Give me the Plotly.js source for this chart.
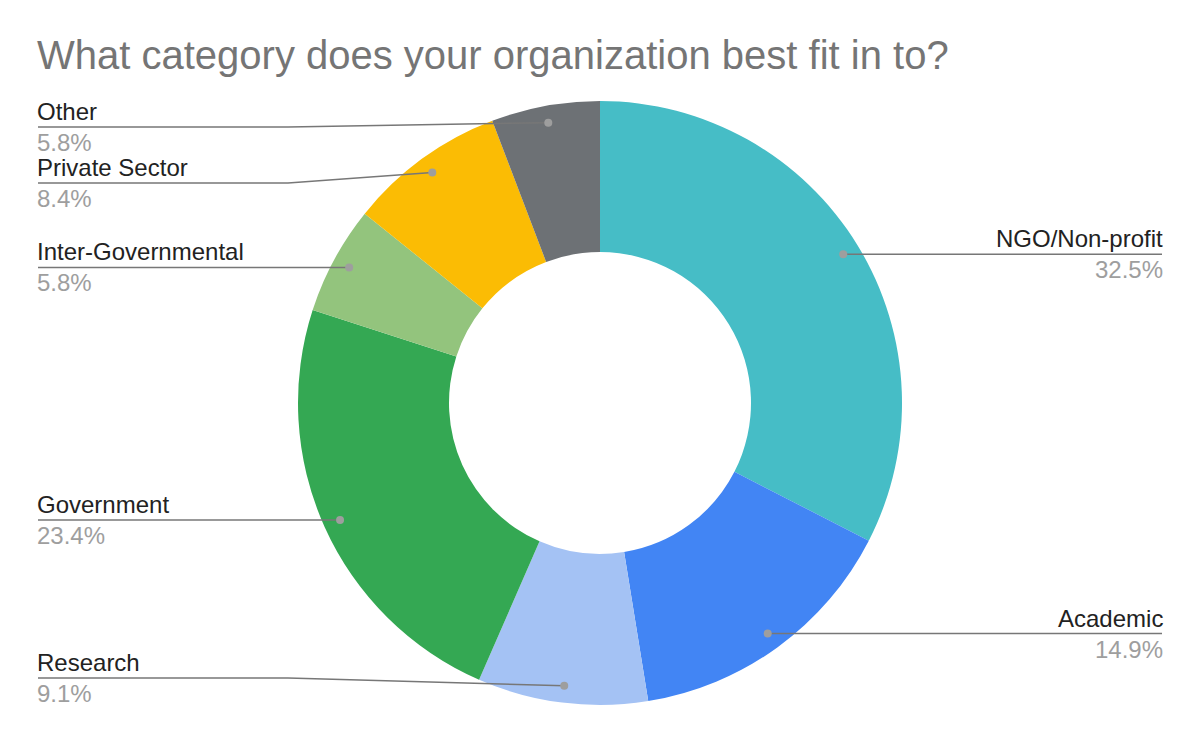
<!DOCTYPE html>
<html>
<head>
<meta charset="utf-8">
<script src="https://cdn.plot.ly/plotly-3.0.1.min.js"></script>
<style>html,body{margin:0;padding:0;background:#fff;}#chart{width:1200px;height:742px;}</style>
</head>
<body>
<div id="chart"></div>
<script>
// ---- data ----
const categories = ['NGO/Non-profit', 'Academic', 'Research', 'Government', 'Inter-Governmental', 'Private Sector', 'Other'];
const shares = [32.5, 14.9, 9.1, 23.4, 5.8, 8.4, 5.8];
const sliceColors = ['#46bdc6', '#4285f4', '#a4c2f4', '#34a853', '#93c47d', '#fbbc04', '#6d7175'];
const chartTitle = 'What category does your organization best fit in to?';

// ---- layout geometry (pixels) ----
const W = 1200, H = 742;
const CX = 600, CY = 403, R = 302;
const HOLE = 0.5;
const DOT_R = 0.944 * R;
const LEFT_X = 38, RIGHT_X = 1162;
const TEXT_SHIFT = 2;
const KINK_LEFT = 288, KINK_RIGHT = 912;
const MIN_GAP = 56, TOP_Y = 127, BOTTOM_Y = 678;
const FONT = 'Arial, "Liberation Sans", sans-serif';

const px = x => x / W;
const py = y => 1 - y / H;

const total = shares.reduce((a, b) => a + b, 0);
let cum = 0;
const items = shares.map((v, i) => {
  const mid = (cum + v / 2) / total;
  cum += v;
  const th = 2 * Math.PI * mid;
  const dx = CX + DOT_R * Math.sin(th);
  const dy = CY - DOT_R * Math.cos(th);
  return {i, dx, dy, side: Math.sin(th) > 0 ? 'right' : 'left', ly: dy};
});

function spread(list) {
  list.sort((a, b) => a.dy - b.dy);
  for (let k = 0; k < list.length; k++) {
    let lo = k === 0 ? TOP_Y : list[k - 1].ly + MIN_GAP;
    list[k].ly = Math.max(list[k].ly, lo);
  }
  for (let k = list.length - 1; k >= 0; k--) {
    let hi = k === list.length - 1 ? BOTTOM_Y : list[k + 1].ly - MIN_GAP;
    list[k].ly = Math.min(list[k].ly, hi);
  }
}
spread(items.filter(d => d.side === 'left'));
spread(items.filter(d => d.side === 'right'));

const shapes = [];
const annotations = [];
items.forEach(d => {
  const endX = d.side === 'left' ? LEFT_X : RIGHT_X;
  const kinkX = d.side === 'left' ? KINK_LEFT : KINK_RIGHT;
  const textX = d.side === 'left' ? endX - TEXT_SHIFT : endX + TEXT_SHIFT;
  let path;
  if (Math.abs(d.ly - d.dy) < 0.5) {
    path = `M ${px(d.dx)} ${py(d.dy)} L ${px(endX)} ${py(d.dy)}`;
  } else {
    path = `M ${px(d.dx)} ${py(d.dy)} L ${px(kinkX)} ${py(d.ly)} L ${px(endX)} ${py(d.ly)}`;
  }
  shapes.push({type: 'path', xref: 'paper', yref: 'paper', path, layer: 'above',
    line: {color: '#777777', width: 1.5}});
  shapes.push({type: 'circle', xref: 'paper', yref: 'paper', layer: 'above',
    x0: px(d.dx - 4), x1: px(d.dx + 4), y0: py(d.dy + 4), y1: py(d.dy - 4),
    fillcolor: '#9e9e9e', line: {width: 0}});
  const anchor = d.side === 'left' ? 'left' : 'right';
  annotations.push({xref: 'paper', yref: 'paper', x: px(textX), y: py(d.ly - 1), xanchor: anchor, yanchor: 'bottom',
    borderpad: 0, text: categories[d.i], showarrow: false, font: {family: FONT, size: 24, color: '#222222'}});
  annotations.push({xref: 'paper', yref: 'paper', x: px(textX), y: py(d.ly + 1), xanchor: anchor, yanchor: 'top',
    borderpad: 0, text: shares[d.i].toFixed(1) + '%', showarrow: false, font: {family: FONT, size: 24, color: '#9e9e9e'}});
});

const trace = {
  type: 'pie',
  labels: categories,
  values: shares,
  hole: HOLE,
  sort: false,
  direction: 'clockwise',
  rotation: 0,
  textinfo: 'none',
  hoverinfo: 'label+percent',
  marker: {colors: sliceColors, line: {width: 0}},
  domain: {x: [px(CX - R), px(CX + R)], y: [py(CY + R), py(CY - R)]},
  showlegend: false
};

const layout = {
  width: W, height: H,
  margin: {l: 0, r: 0, t: 0, b: 0},
  paper_bgcolor: '#ffffff',
  showlegend: false,
  title: {text: chartTitle, x: px(LEFT_X - 1), xanchor: 'left', xref: 'paper', y: py(55), yref: 'container', yanchor: 'middle',
    font: {family: FONT, size: 40, color: '#757575'}},
  shapes, annotations
};

Plotly.newPlot('chart', [trace], layout, {displayModeBar: false, staticPlot: true});
</script>
</body>
</html>
